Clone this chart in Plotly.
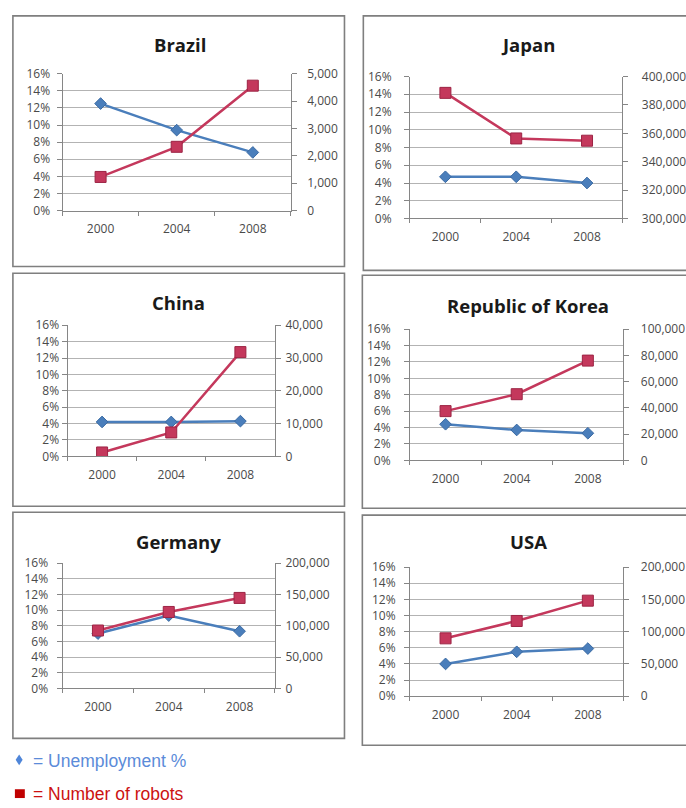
import plotly.graph_objects as go

W, H = 686, 808

years = ["2000", "2004", "2008"]

# Unemployment rate (%) and operational stock of industrial robots per country
brazil_unemployment = [12.5, 9.4, 6.8]
brazil_robots = [1230, 2330, 4560]

japan_unemployment = [4.7, 4.7, 4.0]
japan_robots = [388500, 356400, 354800]

china_unemployment = [4.2, 4.2, 4.3]
china_robots = [1200, 7300, 31800]

korea_unemployment = [4.4, 3.7, 3.3]
korea_robots = [37500, 50400, 76000]

germany_unemployment = [7.0, 9.3, 7.3]
germany_robots = [92400, 122000, 144400]

usa_unemployment = [4.0, 5.5, 5.9]
usa_robots = [89600, 116500, 147900]

BLUE = "#4a7ebb"
RED = "#c4385c"
RED_EDGE = "#9c2444"
AXIS = "#868686"
GRID = "#b3b3b3"
TICK_FONT = dict(family="Open Sans", size=12, color="#4a4a4a")
BORDER = "#7f7f7f"


def fx(x):
    return x / W


def fy(y):
    return 1 - y / H


# plot rectangle (left, right, top, bottom) and frame in pixels
panels = [
    dict(name="Brazil", unemp=brazil_unemployment, robots=brazil_robots,
         plot=(63, 293, 66, 206), box=(13, 347, 7, 263), title=(181, 36),
         rrange=(0, 5000), rdtick=1000, lstand=4, rstand=8),
    dict(name="Japan", unemp=japan_unemployment, robots=japan_robots,
         plot=(413, 627, 69, 214), box=(366, 720, 7, 267), title=(532, 36),
         rrange=(300000, 400000), rdtick=20000, lstand=10, rstand=11),
    dict(name="China", unemp=china_unemployment, robots=china_robots,
         plot=(68, 277, 323, 457), box=(13, 347, 270, 508), title=(180, 300),
         rrange=(0, 40000), rdtick=10000, lstand=0, rstand=2),
    dict(name="Republic of Korea", unemp=korea_unemployment, robots=korea_robots,
         plot=(413, 628, 327, 461), box=(365, 720, 272, 510), title=(532, 303),
         rrange=(0, 100000), rdtick=20000, lstand=11, rstand=9),
    dict(name="Germany", unemp=germany_unemployment, robots=germany_robots,
         plot=(63, 277, 566, 694), box=(13, 347, 514, 745), title=(180, 544),
         rrange=(0, 200000), rdtick=50000, lstand=6, rstand=2),
    dict(name="USA", unemp=usa_unemployment, robots=usa_robots,
         plot=(413, 628, 570, 702), box=(365, 720, 517, 752), title=(532, 544),
         rrange=(0, 200000), rdtick=50000, lstand=6, rstand=9),
]

fig = go.Figure()
layout = {}
shapes = []
annotations = []

for i, p in enumerate(panels, start=1):
    l, r, t, b = p["plot"]
    xname = "x" if i == 1 else f"x{i}"
    yl = 2 * i - 1
    yr = 2 * i
    ylname = "y" if yl == 1 else f"y{yl}"
    yrname = f"y{yr}"
    xkey = "xaxis" if i == 1 else f"xaxis{i}"
    ylkey = "yaxis" if yl == 1 else f"yaxis{yl}"
    yrkey = f"yaxis{yr}"

    layout[xkey] = dict(
        domain=[fx(l), fx(r)], anchor=ylname, type="category",
        range=[-0.5, 2.5], showline=True, linecolor=AXIS, linewidth=1,
        ticks="outside", tickson="boundaries", ticklen=4, tickcolor=AXIS,
        showgrid=False, zeroline=False, tickfont=TICK_FONT,
        ticklabelstandoff=7, fixedrange=True,
    )
    layout[ylkey] = dict(
        domain=[fy(b), fy(t)], anchor=xname, range=[0, 16], dtick=2,
        tick0=0, ticksuffix="%", showgrid=True, gridcolor=GRID,
        gridwidth=1, showline=True, linecolor=AXIS, linewidth=1,
        ticks="outside", ticklen=5, tickcolor=AXIS, zeroline=False,
        tickfont=TICK_FONT, ticklabelstandoff=p["lstand"], fixedrange=True,
    )
    layout[yrkey] = dict(
        overlaying=ylname, anchor=xname, side="right",
        range=list(p["rrange"]), dtick=p["rdtick"], tick0=p["rrange"][0],
        tickformat=",d", showgrid=False, showline=True, linecolor=AXIS,
        linewidth=1, ticks="outside", ticklen=5, tickcolor=AXIS,
        zeroline=False, tickfont=TICK_FONT, ticklabelstandoff=p["rstand"],
        fixedrange=True,
    )

    fig.add_trace(go.Scatter(
        x=years, y=p["unemp"], xaxis=xname, yaxis=ylname,
        mode="lines+markers", name="Unemployment %", showlegend=False,
        line=dict(color=BLUE, width=2.5),
        marker=dict(symbol="diamond", size=9, color=BLUE,
                    line=dict(color="#3a6aa3", width=1)),
    ))
    fig.add_trace(go.Scatter(
        x=years, y=p["robots"], xaxis=xname, yaxis=yrname,
        mode="lines+markers", name="Number of robots", showlegend=False,
        line=dict(color=RED, width=2.5),
        marker=dict(symbol="square", size=11, color=RED,
                    line=dict(color=RED_EDGE, width=1)),
    ))

    bl, br, bt, bb = p["box"]
    shapes.append(dict(
        type="rect", xref="paper", yref="paper",
        x0=fx(bl), x1=fx(br), y0=fy(bb), y1=fy(bt),
        line=dict(color=BORDER, width=1.6), fillcolor="rgba(0,0,0,0)",
        layer="below",
    ))
    tx, ty = p["title"]
    annotations.append(dict(
        text=f"<b>{p['name']}</b>", x=fx(tx), y=fy(ty),
        xref="paper", yref="paper", xanchor="center", yanchor="middle",
        showarrow=False,
        font=dict(family="Open Sans", size=18.5, color="#1a1a1a"),
    ))

# key below the panels
shapes.append(dict(
    type="path", xref="paper", yref="paper",
    path=(f"M {fx(19.3)} {fy(761.5)} L {fx(22.8)} {fy(767)} "
          f"L {fx(19.3)} {fy(772.5)} L {fx(15.8)} {fy(767)} Z"),
    fillcolor="#4f86d9", line=dict(width=0),
))
shapes.append(dict(
    type="rect", xref="paper", yref="paper",
    x0=fx(15), x1=fx(25), y0=fy(806), y1=fy(797),
    fillcolor="#c00000", line=dict(width=0),
))
annotations.append(dict(
    text="= Unemployment %", x=fx(31), y=fy(768), xref="paper", yref="paper",
    xanchor="left", yanchor="middle", showarrow=False,
    font=dict(family="Liberation Sans", size=17.5, color="#5b8bd9"),
))
annotations.append(dict(
    text="= Number of robots", x=fx(31), y=fy(802), xref="paper", yref="paper",
    xanchor="left", yanchor="middle", showarrow=False,
    font=dict(family="Liberation Sans", size=17.5, color="#cc1111"),
))

fig.update_layout(
    width=W, height=H, margin=dict(l=0, r=0, t=0, b=0),
    paper_bgcolor="white", plot_bgcolor="white",
    showlegend=False, shapes=shapes, annotations=annotations,
    **layout,
)

fig.write_html("out.html", config=dict(displayModeBar=False))
